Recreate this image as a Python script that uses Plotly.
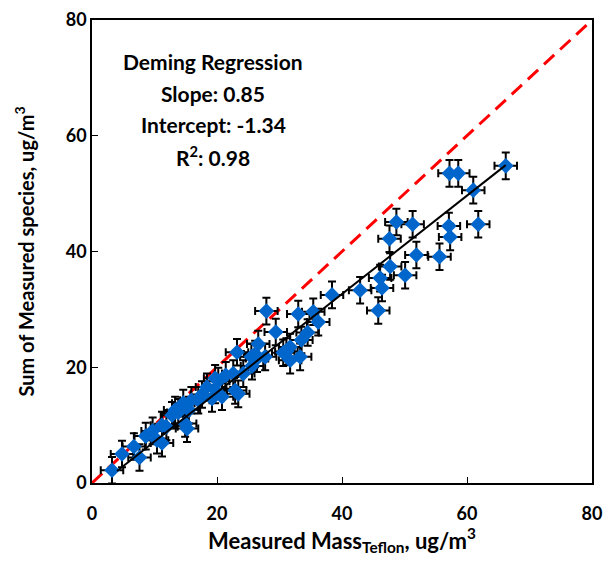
import plotly.graph_objects as go

# Measured mass (Teflon), ug/m3
mass_teflon = [3.2, 4.8, 7.6, 6.7, 8.6, 9.7, 10.4, 11.2, 11.2, 11.9, 12.8, 13.3, 13.8, 14.6,
               14.9, 15.2, 15.5, 15.9, 17.0, 17.6, 18.4, 19.2, 19.7, 19.7, 20.2, 20.8, 21.4,
               22.6, 22.9, 23.4, 24.2, 23.2, 25.6, 25.5, 26.4, 26.6, 26.1, 27.7, 27.9, 29.4,
               30.6, 31.1, 31.7, 31.7, 33.0, 33.3, 33.5, 34.5, 35.4, 36.2, 38.4, 42.9, 45.8,
               46.1, 46.4, 47.7, 47.6, 48.7, 50.1, 51.3, 51.9, 55.6, 57.1, 57.3, 57.2, 58.6,
               61.0, 61.8, 66.2]
# Sum of measured species, ug/m3
sum_species = [2.2, 5.0, 4.4, 6.3, 8.1, 9.0, 7.4, 6.9, 10.0, 9.7, 11.7, 12.6, 12.2, 13.8,
               10.3, 9.4, 12.6, 14.3, 14.3, 15.3, 16.6, 14.6, 16.1, 18.1, 17.6, 14.9, 18.6,
               18.9, 16.0, 15.4, 18.9, 22.6, 20.2, 21.8, 21.5, 24.0, 22.3, 21.8, 29.7, 26.1,
               22.5, 22.7, 23.5, 21.2, 29.2, 21.8, 24.7, 26.0, 29.6, 27.8, 32.5, 33.3, 29.8,
               35.4, 33.7, 37.4, 42.2, 45.1, 35.9, 44.7, 39.4, 39.1, 44.4, 42.5, 53.5, 53.5,
               50.6, 44.7, 54.8]
err_x = 1.8
err_y = 2.3

slope = 0.85
intercept = -1.34
r2 = 0.98
fit_x = [min(mass_teflon) + 0.8, max(mass_teflon)]
fit_y = [slope * v + intercept for v in fit_x]
one_to_one = [0, 80]

tick_vals = [0, 20, 40, 60, 80]

fig = go.Figure()
fig.add_trace(go.Scatter(
    x=one_to_one, y=one_to_one, mode="lines",
    line=dict(color="#FF0000", width=3, dash="14px,8px"), hoverinfo="skip"))
fig.add_trace(go.Scatter(
    x=mass_teflon, y=sum_species, mode="markers",
    marker=dict(symbol="diamond", size=12, color="#0066CC", line=dict(width=0)),
    error_x=dict(type="constant", value=err_x, color="black", thickness=2, width=4),
    error_y=dict(type="constant", value=err_y, color="black", thickness=2, width=4)))
fig.add_trace(go.Scatter(
    x=fit_x, y=fit_y, mode="lines", line=dict(color="black", width=2), hoverinfo="skip"))

font_fam = "Lato, 'Open Sans', sans-serif"
lines = ["Deming Regression", f"Slope: {slope:.2f}", f"Intercept: {intercept:.2f}",
         f"R<sup>2</sup>: {r2:.2f}"]
for i, t in enumerate(lines):
    fig.add_annotation(x=19.4, y=72.8 - i * 5.45, xref="x", yref="y", text="<b>" + t + "</b>",
                       showarrow=False, font=dict(family=font_fam, size=21, color="black"),
                       xanchor="center", yanchor="middle")

axis_common = dict(range=[0, 80], tickvals=tick_vals, ticks="inside", ticklen=6,
                   tickwidth=1, tickcolor="black", showline=True, linecolor="black",
                   linewidth=1.5, mirror=True, showgrid=False, zeroline=False,
                   automargin=False,
                   tickfont=dict(family=font_fam, size=18, color="black", weight="bold"))
fig.update_xaxes(**axis_common, ticklabelstandoff=14,
                 title=dict(text="<b>Measured Mass<sub>Teflon</sub>, ug/m<sup>3</sup></b>",
                            font=dict(family=font_fam, size=22, color="black"), standoff=6))
fig.update_yaxes(**axis_common,
                 title=dict(text="<b>Sum of Measured species, ug/m<sup>3</sup></b>",
                            font=dict(family=font_fam, size=20, color="black"), standoff=26))
fig.update_layout(width=604, height=561, showlegend=False,
                  margin=dict(l=92, r=12, t=20, b=78),
                  plot_bgcolor="white", paper_bgcolor="white")
fig.write_html("out.html", config={"displayModeBar": False},
               post_script="document.body.style.margin='0';")
